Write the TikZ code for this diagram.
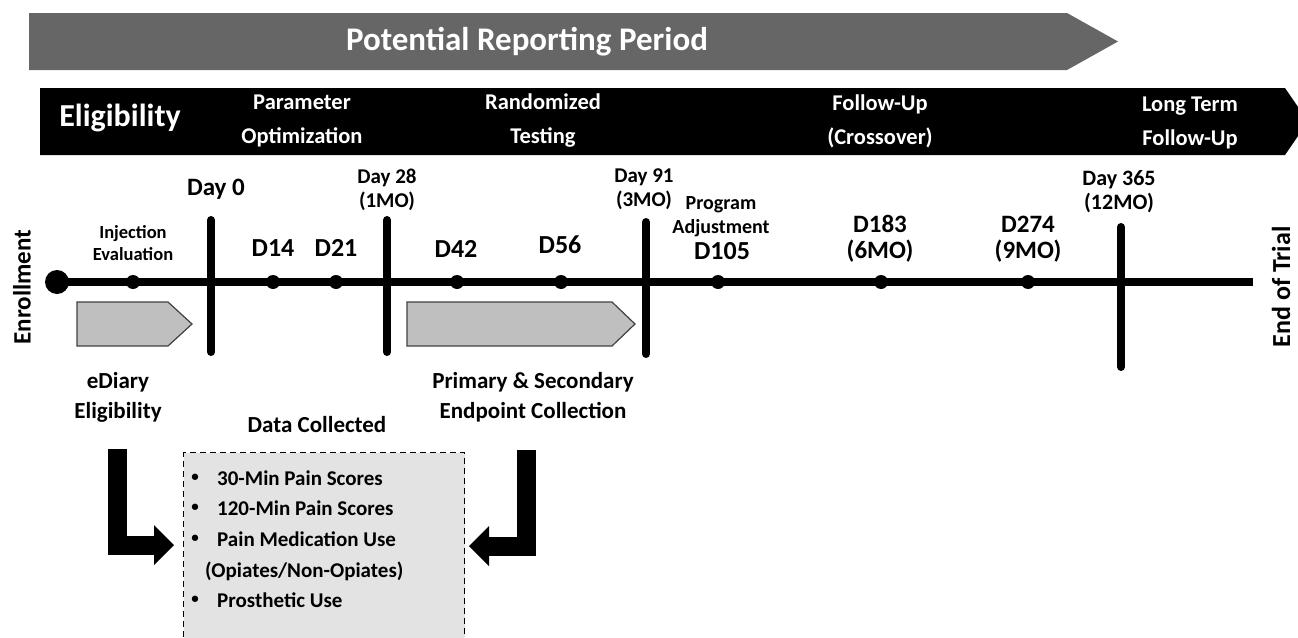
\documentclass[tikz,border=0pt]{standalone}
\usepackage{fontspec}
\setmainfont{Carlito}
\usetikzlibrary{arrows.meta}
\definecolor{bandgray}{RGB}{102,102,102}
\definecolor{boxgray}{RGB}{227,227,227}
\definecolor{tabgray}{RGB}{191,191,191}
\newcommand{\fs}[2]{\fontsize{#1}{#2}\selectfont\bfseries}

\begin{document}
\begin{tikzpicture}[x=1pt,y=-1pt,
    lbl/.style={inner sep=0pt, align=center},
    hdr/.style={lbl, text=white, font=\fs{22.5}{34}},
    daybar/.style={line width=8pt, line cap=round},
    tab/.style={fill=tabgray, draw=black!75, line width=1.2pt},
    bentarrow/.style={line width=19pt, line join=miter, -{Triangle[length=20pt,width=40pt,line width=0pt]}},
    item/.style={inner sep=0pt, anchor=west, font=\fs{21}{25}}]
  \useasboundingbox (0,0) rectangle (1298,637);
  \clip (0,0) rectangle (1298,637);
  % bands on top
  \fill[bandgray] (29,13) -- (1067,13) -- (1118,41.5) -- (1067,70) -- (29,70) -- cycle;
  \node[lbl, text=white, font=\fs{33}{35}] (period) at (527,42) {Potential Reporting Period};
  \fill (40,88) -- (1285,88) -- (1308,121.5) -- (1285,155) -- (40,155) -- cycle;
  \node[lbl, text=white, font=\fs{32}{34}] (elig) at (120,118) {Eligibility};
  \node[hdr] (param) at (302,121) {Parameter\\Optimization};
  \node[hdr] (random) at (543,121) {Randomized\\Testing};
  \node[hdr] (follow) at (880,121) {Follow-Up\\(Crossover)};
  \node[hdr] (longterm) at (1190,123) {Long Term\\Follow-Up};
  % timeline
  \node[circle, fill, minimum size=24pt, inner sep=0pt] (enroll) at (57,282) {};
  \coordinate (trialend) at (1253,282);
  \draw[line width=8pt] (enroll.center) -- (trialend);
  \foreach \x in {133,273,336,457,561,718,881,1028}
    \fill (\x,282) circle (7pt);
  \foreach \x/\t/\b in {211/220/352,387/220/352,646/222/354,1121/227/367}
    \draw[daybar] (\x,\t) -- (\x,\b);
  \draw[tab] (77,302) -- (168,302) -- (192,324) -- (168,346) -- (77,346) -- cycle;
  \draw[tab] (407,302) -- (612,302) -- (635,324) -- (612,346) -- (407,346) -- cycle;
  % labels on the timeline
  \node[lbl, rotate=90, font=\fs{25}{28}] (enrolltxt) at (22,287) {Enrollment};
  \node[lbl, rotate=90, font=\fs{26}{28}] (endtxt) at (1281,287) {End of Trial};
  \node[lbl, font=\fs{18.5}{22}] (inject) at (133,243) {Injection\\Evaluation};
  \node[lbl, font=\fs{25}{28}] (day0) at (216,189) {Day 0};
  \node[lbl, font=\fs{21}{24}] (day28) at (387,190) {Day 28\\(1MO)};
  \node[lbl, font=\fs{21}{24}] (day91) at (644,189) {Day 91\\(3MO)};
  \node[lbl, font=\fs{22}{24}] (day365) at (1119,192) {Day 365\\(12MO)};
  \foreach \x/\y/\d in {273/248/D14,336/248/D21,456/249/D42,560/245/D56,722/251/D105}
    \node[lbl, font=\fs{26}{28}] (\d) at (\x,\y) {\d};
  \node[lbl, font=\fs{20}{24}] (adjust) at (721,217) {Program\\Adjustment};
  \node[lbl, anchor=base, font=\fs{25}{28}] (d183) at (880,232) {D183};
  \node[lbl, anchor=base, font=\fs{25}{28}] (sixmo) at (880,258) {(6MO)};
  \node[lbl, anchor=base, font=\fs{25}{28}] (d274) at (1028,232) {D274};
  \node[lbl, anchor=base, font=\fs{25}{28}] (ninemo) at (1028,258) {(9MO)};
  % data collected
  \node[lbl, font=\fs{23}{30}] (ediary) at (118,397) {eDiary\\Eligibility};
  \node[lbl, font=\fs{23}{30}] (primary) at (533,397) {Primary \& Secondary\\Endpoint Collection};
  \node[lbl, font=\fs{23}{26}] (datatitle) at (317,425) {Data Collected};
  \node[draw, dash pattern=on 6pt off 4pt, line width=1.3pt, fill=boxgray, minimum width=281pt,
    minimum height=230pt, anchor=north west, inner sep=0pt] (data) at (183,452) {};
  \foreach \y/\t in {478/30-Min Pain Scores,508/120-Min Pain Scores,539/Pain Medication Use,600/Prosthetic Use}{
    \node[item, anchor=center, font=\fs{15}{18}] at (195,\y) {•};
    \node[item] at (217,\y) {\t};
  }
  \node[item] (opiates) at (205,571) {(Opiates/Non-Opiates)};
  \coordinate (ediarytail) at (117,449);
  \coordinate (ediarytip) at (174,545);
  \coordinate (primarytail) at (526.5,450);
  \coordinate (primarytip) at (469,546);
  \draw[bentarrow] (ediarytail) |- (ediarytip);
  \draw[bentarrow] (primarytail) |- (primarytip);
\end{tikzpicture}
\end{document}
